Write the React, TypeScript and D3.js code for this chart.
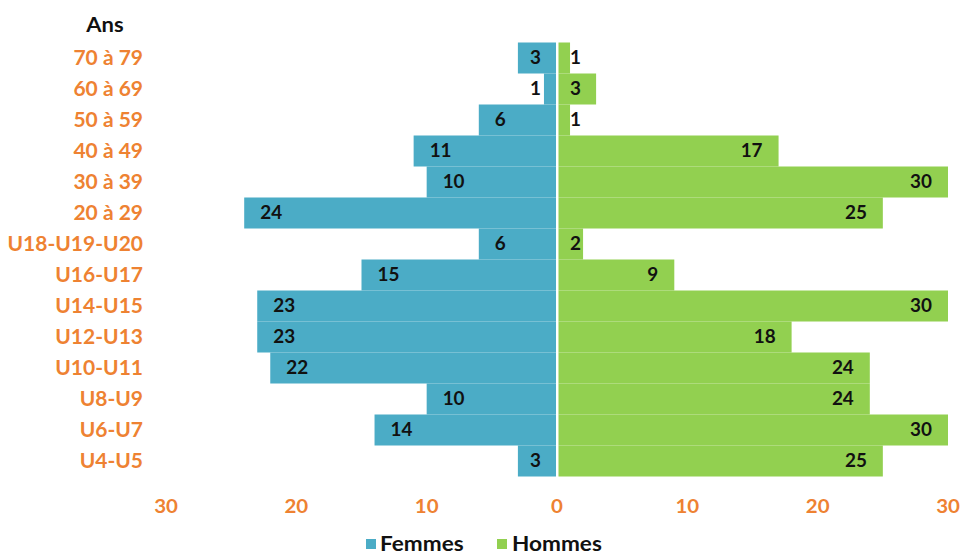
import React from "react";
import * as d3 from "d3";

const categories = [
  "70 à 79", "60 à 69", "50 à 59", "40 à 49", "30 à 39", "20 à 29",
  "U18-U19-U20", "U16-U17", "U14-U15", "U12-U13", "U10-U11", "U8-U9", "U6-U7", "U4-U5",
];
const femmes = [3, 1, 6, 11, 10, 24, 6, 15, 23, 23, 22, 10, 14, 3];
const hommes = [1, 3, 1, 17, 30, 25, 2, 9, 30, 18, 24, 24, 30, 25];
const ticks = [-30, -20, -10, 0, 10, 20, 30];

const width = 960;
const height = 555;
const blue = "#4BACC6";
const green = "#92D050";
const orange = "#EE8232";
const font = "Lato, 'Open Sans', sans-serif";

// text slightly stretched horizontally, to get closer to the wide look of the original
function T({ x, y, anchor = "start", size, fill, sx = 1.05, children }: any) {
  return (
    <text
      transform={`translate(${x},${y}) scale(${sx},1)`}
      dy="0.35em"
      textAnchor={anchor}
      fontSize={size}
      fill={fill}
    >
      {children}
    </text>
  );
}

export default function App() {
  const x = d3.scaleLinear().domain([-30, 30]).range([166, 948]);
  const y = d3.scaleBand<string>().domain(categories).range([42.5, 476.5]).padding(0);
  const x0 = x(0);
  const bh = y.bandwidth();

  return (
    <svg
      width={width}
      height={height}
      style={{ position: "absolute", left: 0, top: 0, display: "block" }}
      fontFamily={font}
      fontWeight="bold"
    >
      <rect width={width} height={height} fill="#fff" />
      <T x={105} y={25} anchor="middle" size={20} fill="#111" sx={1.1}>Ans</T>

      {categories.map((c, i) => {
        const yc = (y(c) as number) + bh / 2;
        const left = x(-femmes[i]);
        const right = x(hommes[i]);
        const fx = Math.min(left + 16, x0 - 27);
        const hx = Math.max(right - 16, x0 + 24);
        return (
          <g key={c}>
            <T x={143} y={yc} anchor="end" size={20} fill={orange}>{c}</T>
            <rect x={left} y={y(c)} width={x0 - 1 - left} height={bh} fill={blue} />
            <rect x={x0 + 1.5} y={y(c)} width={right - x0 - 1.5} height={bh} fill={green} />
            <T x={fx} y={yc} anchor="start" size={18} fill="#111">{femmes[i]}</T>
            <T x={hx} y={yc} anchor="end" size={18} fill="#111">{hommes[i]}</T>
          </g>
        );
      })}

      {ticks.map((t) => (
        <T key={t} x={x(t)} y={506} anchor="middle" size={19.5} fill={orange}>
          {Math.abs(t)}
        </T>
      ))}

      <g>
        <rect x={366} y={539} width={10} height={10} fill={blue} />
        <T x={380} y={544} size={20} fill="#111" sx={1.13}>Femmes</T>
        <rect x={497} y={539} width={10} height={10} fill={green} />
        <T x={512} y={544} size={20} fill="#111" sx={1.13}>Hommes</T>
      </g>
    </svg>
  );
}
